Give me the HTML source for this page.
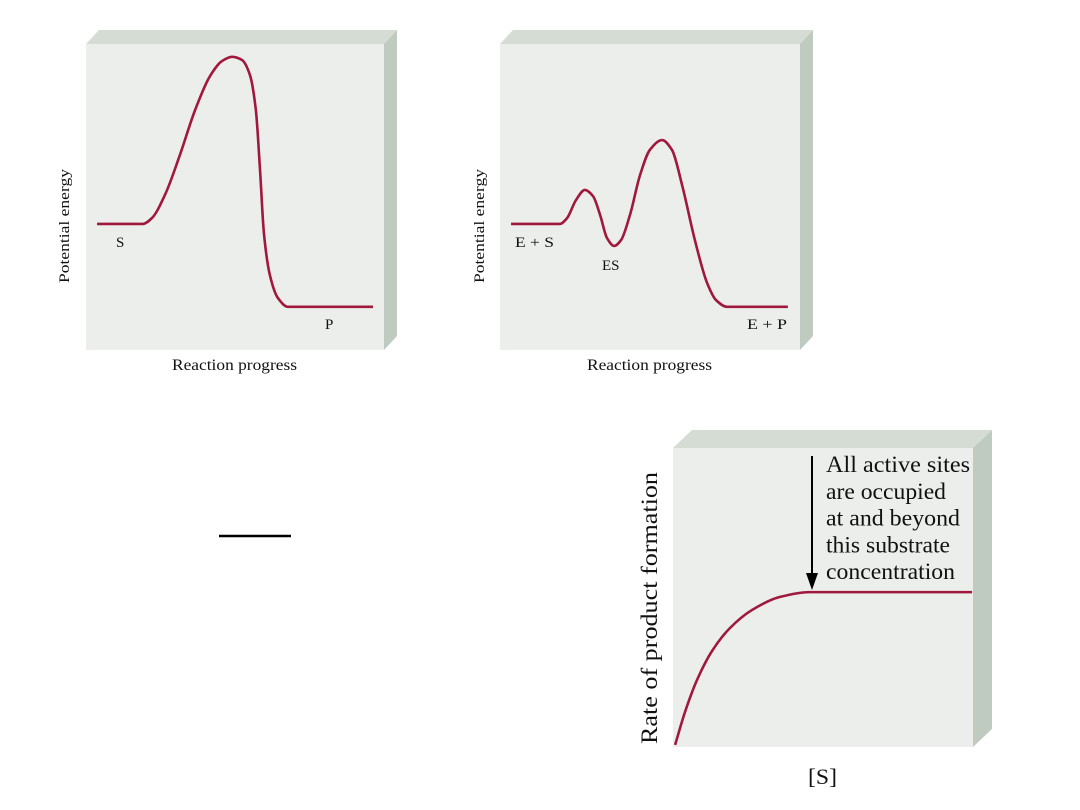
<!DOCTYPE html>
<html><head><meta charset="utf-8"><style>
html,body{margin:0;padding:0;background:#fff;}
svg{display:block;}
text{font-family:"Liberation Serif",serif;fill:#111;}
</style></head><body>
<svg id="s" width="1080" height="810" viewBox="0 0 1080 810">
</svg>
<script>
// Panel 1: uncatalyzed reaction energy profile (x: progress 0-100, y: energy 0-100)
const p1X=[3.7,19.1,22.1,26.5,31.5,36.6,41.6,45.6,49.0,52.3,55.0,57.0,58.4,59.7,61.7,64.4,67.8,96.3];
const p1Y=[41.2,41.2,43.1,50.7,63.7,78.4,89.5,94.4,95.8,94.8,89.9,78.4,58.8,38.2,24.5,17.0,14.1,14.1];
// Panel 2: enzyme-catalyzed profile
const p2X=[3.7,20.1,22.5,25.5,28.5,31.2,33.6,35.9,38.3,40.6,43.6,47.0,50.3,54.4,57.7,61.1,65.4,69.5,72.5,76.2,96.6];
const p2Y=[41.2,41.2,43.1,49.0,52.3,50.3,44.1,36.6,34.0,35.9,44.1,57.2,65.4,68.6,65.4,53.9,35.9,21.9,16.3,14.1,14.1];
// Panel 3: rate vs [S]
const p3X=[0.7,4,8,13,19,26.3,35.7,45.7,99.7];
const p3Y=[0.7,11.7,22.4,32.1,39.8,45.8,50.2,51.8,51.8];

const NS="http://www.w3.org/2000/svg";
const svg=document.getElementById('s');
function mk(tag,attrs,parent){const e=document.createElementNS(NS,tag);for(const k in attrs)e.setAttribute(k,attrs[k]);(parent||svg).appendChild(e);return e;}

function box(x0,y0,x1,y1,dx,dy,name){
  const g=mk('g',{});
  
  
  const top=mk('polygon',{points:`${x0},${y0} ${x0+dx},${y0-dy} ${x1+dx},${y0-dy} ${x1},${y0}`,fill:'#d4dcd4'},g);
  
  
  const side=mk('polygon',{points:`${x1},${y0} ${x1+dx},${y0-dy} ${x1+dx},${y1-dy} ${x1},${y1}`,fill:'#bfcbc0'},g);
  
  
  const front=mk('rect',{x:x0,y:y0,width:x1-x0,height:y1-y0,fill:'#ebeeea'},g);
  
  
}
function monoPath(pts){
  const n=pts.length, dx=[], m=[], t=[];
  for(let i=0;i<n-1;i++){dx.push(pts[i+1][0]-pts[i][0]);m.push((pts[i+1][1]-pts[i][1])/dx[i]);}
  t[0]=m[0]; t[n-1]=m[n-2];
  for(let i=1;i<n-1;i++){
    if(m[i-1]*m[i]<=0)t[i]=0;
    else{const w1=2*dx[i]+dx[i-1],w2=dx[i]+2*dx[i-1];t[i]=(w1+w2)/(w1/m[i-1]+w2/m[i]);}
  }
  let d=`M${pts[0][0]},${pts[0][1]}`;
  for(let i=0;i<n-1;i++){
    const h=dx[i]/3;
    d+=` C${pts[i][0]+h},${pts[i][1]+t[i]*h} ${pts[i+1][0]-h},${pts[i+1][1]-t[i+1]*h} ${pts[i+1][0]},${pts[i+1][1]}`;
  }
  return d;
}
function curve(xs,ys,sx,sy,name){
  const pts=xs.map((x,i)=>[sx(x),sy(ys[i])]);
  const p=mk('path',{d:monoPath(pts),fill:'none',stroke:'#a0183c','stroke-width':2.6,'stroke-linejoin':'round'});
  
  
}
function txt(x,y,s,size,name,extra){
  const t=mk('text',Object.assign({x:x,y:y,'font-size':size},extra||{}));
  t.textContent=s;
  
  
  return t;
}
const fit=(w)=>({textLength:w,lengthAdjust:'spacingAndGlyphs'});

// Panel 1
box(86,44,384,350,13,14,'uncatalyzed-panel');
const x1=v=>86+v*2.98, y1=v=>350-v*3.06;
curve(p1X,p1Y,x1,y1,'uncatalyzed-curve');
txt(116,247,'S',15,'substrate-label');
txt(325,329,'P',15,'product-label');
txt(172,370,'Reaction progress',16,'x-axis-title-1',fit(125));
txt(69,226,'Potential energy',15,'y-axis-title-1',Object.assign({'text-anchor':'middle',transform:'rotate(-90 69 226)'},fit(114)));

// Panel 2
box(500,44,800,350,13,14,'catalyzed-panel');
const x2=v=>500+v*2.98, y2=v=>350-v*3.06;
curve(p2X,p2Y,x2,y2,'catalyzed-curve');
txt(515,247,'E + S',15,'enzyme-substrate-label',fit(39));
txt(602,270,'ES',15,'es-complex-label');
txt(747,329,'E + P',15,'enzyme-product-label',fit(40));
txt(587,370,'Reaction progress',16,'x-axis-title-2',fit(125));
txt(484,226,'Potential energy',15,'y-axis-title-2',Object.assign({'text-anchor':'middle',transform:'rotate(-90 484 226)'},fit(114)));

// short line
const ln=mk('line',{x1:219,y1:536,x2:291,y2:536,stroke:'#000','stroke-width':2.5});



// Panel 3
box(673,448,973,747,19,18,'saturation-panel');
const x3=v=>673+v*3.0, y3=v=>747-v*2.99;
curve(p3X,p3Y,x3,y3,'rate-curve');
const ar=mk('line',{x1:812,y1:456,x2:812,y2:578,stroke:'#000','stroke-width':2});


const ah=mk('polygon',{points:'806,573 818,573 812,590',fill:'#000'});


const lines=['All active sites','are occupied','at and beyond','this substrate','concentration'];
const widths=[144,120,134,124,129];
lines.forEach((s,i)=>txt(826,472+i*26.8,s,23,'annotation-line-'+(i+1),fit(widths[i])));
txt(808,784,'[S]',22,'x-axis-title-3',fit(29));
txt(657,608,'Rate of product formation',23,'y-axis-title-3',Object.assign({'text-anchor':'middle',transform:'rotate(-90 657 608)'},fit(272)));
</script>
</body></html>
